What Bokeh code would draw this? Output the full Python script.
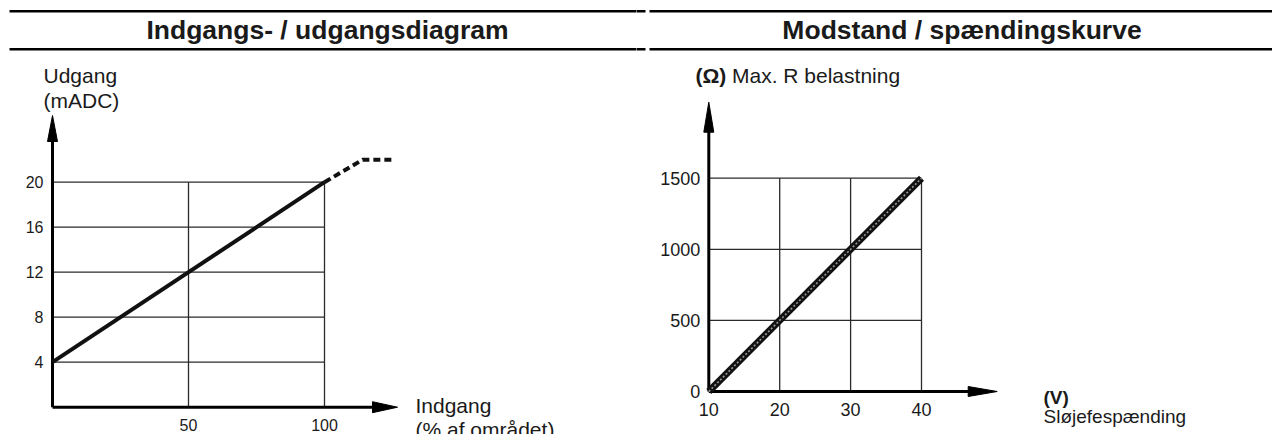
from bokeh.plotting import figure
from bokeh.layouts import row
from bokeh.models import Range1d
from bokeh.core.properties import value
from bokeh.embed import file_html
from bokeh.resources import INLINE

# ---------------- data ----------------
left_title = "Indgangs- / udgangsdiagram"
right_title = "Modstand / spændingskurve"

left_x_ticks = [50, 100]
left_y_ticks = [4, 8, 12, 16, 20]
left_input = [0, 100]          # Indgang (% af området)
left_output = [4, 20]          # Udgang (mADC)
left_sat_input = [100, 114, 126]
left_sat_output = [20, 22, 22]

right_x_ticks = [10, 20, 30, 40]
right_y_ticks = [0, 500, 1000, 1500]
right_volts = [10, 40]         # Sløjefespænding (V)
right_ohms = [0, 1500]         # Max. R belastning (Ω)

# ---------------- layout ----------------
FIG_W, FIG_H = 636, 434
TOP = 0
FONT = value("Liberation Sans")
TXT = "#1a1a1a"


def mapper(fig_left, xv0, xp0, xv1, xp1, yv0, yp0, yv1, yp1):
    sx = (xp1 - xp0) / (xv1 - xv0)
    sy = (yp1 - yp0) / (yv1 - yv0)
    fx = lambda px: xv0 + (px - xp0) / sx
    fy = lambda py: yv0 + (py - yp0) / sy
    xr = Range1d(fx(fig_left), fx(fig_left + FIG_W))
    yr = Range1d(fy(TOP + FIG_H), fy(TOP))
    return fx, fy, abs(sx), abs(sy), xr, yr


def make_fig(xr, yr):
    p = figure(width=FIG_W, height=FIG_H, x_range=xr, y_range=yr,
               x_axis_location=None, y_axis_location=None,
               toolbar_location=None, output_backend="svg",
               min_border=0, outline_line_color=None)
    p.background_fill_color = "white"
    p.border_fill_color = "white"
    p.xgrid.visible = False
    p.ygrid.visible = False
    return p


def headers(p, fx, fy):
    for a, b in [(9, 645), (649, 1274)]:
        for yy in (10.7, 48.7):
            p.segment(x0=[fx(a)], y0=[fy(yy)], x1=[fx(b)], y1=[fy(yy)],
                      line_color="black", line_width=2.5)


def label(p, x, y, t, size, bold=False, align="left"):
    p.text(x=[x], y=[y], text=[t], text_font=FONT, text_font_size=f"{size}px",
           text_font_style="bold" if bold else "normal", text_color=TXT,
           text_align=align, text_baseline="middle")


def arrowhead(p, tip_x, tip_y, dx, dy, half):
    # dx, dy: data-vector from tip to base; half: data-vector of half width
    p.patch(x=[tip_x, tip_x + dx + half[0], tip_x + dx - half[0]],
            y=[tip_y, tip_y + dy + half[1], tip_y + dy - half[1]],
            fill_color="black", line_color="black", line_width=1)


# ================= left chart =================
fxL, fyL, sxL, syL, xrL, yrL = mapper(0, 0, 52, 100, 324, 0, 406.7, 20, 181.7)
pL = make_fig(xrL, yrL)
headers(pL, fxL, fyL)
label(pL, fxL(327), fyL(29.5), left_title, 26.5, bold=True, align="center")

LX_END = fxL(397)
LY_END = fyL(115)
xmaxL, ymaxL = max(left_x_ticks), max(left_y_ticks)

# grid
pL.segment(x0=[0] * len(left_y_ticks), x1=[xmaxL] * len(left_y_ticks),
           y0=left_y_ticks, y1=left_y_ticks, line_color="#2a2a2a", line_width=1.3)
pL.segment(x0=left_x_ticks, x1=left_x_ticks, y0=[0] * len(left_x_ticks),
           y1=[ymaxL] * len(left_x_ticks), line_color="#2a2a2a", line_width=1.3)

# axes
pL.segment(x0=[0], y0=[0], x1=[LX_END - 10 / sxL], y1=[0], line_color="black", line_width=3)
pL.segment(x0=[0], y0=[0], x1=[0], y1=[LY_END - 10 / syL], line_color="black", line_width=3)
arrowhead(pL, LX_END, 0, -25 / sxL, 0, (0, 5.5 / syL))
arrowhead(pL, 0, LY_END, 0, -26 / syL, (5 / sxL, 0))

# data
pL.line(left_input, left_output, line_color="#111111", line_width=4)
pL.line(left_sat_input, left_sat_output, line_color="#111111", line_width=4,
        line_dash="7 4")

# tick labels
pL.text(x=[0] * len(left_y_ticks), y=left_y_ticks, text=[str(t) for t in left_y_ticks],
        text_font=FONT, text_font_size="16px", text_color=TXT, text_align="right",
        text_baseline="middle", x_offset=-9)
pL.text(x=left_x_ticks, y=[0] * len(left_x_ticks), text=[str(t) for t in left_x_ticks],
        text_font=FONT, text_font_size="16px", text_color=TXT, text_align="center",
        text_baseline="middle", y_offset=17.3)

# axis titles
label(pL, fxL(43), fyL(74.5), "Udgang", 21)
label(pL, fxL(43), fyL(100), "(mADC)", 21)
label(pL, fxL(415), fyL(404.5), "Indgang", 21)
label(pL, fxL(415), fyL(428.5), "(% af området)", 21)

# ================= right chart =================
fxR, fyR, sxR, syR, xrR, yrR = mapper(636, 10, 708.3, 40, 921, 0, 391, 1500, 177.7)
pR = make_fig(xrR, yrR)
headers(pR, fxR, fyR)
label(pR, fxR(961.5), fyR(29.5), right_title, 26.5, bold=True, align="center")

RX_END = fxR(996.7)
RY_END = fyR(101.7)
x0R, xmaxR = min(right_x_ticks), max(right_x_ticks)
ymaxR = max(right_y_ticks)

hy = [t for t in right_y_ticks if t > 0]
vx = [t for t in right_x_ticks if t > x0R]
pR.segment(x0=[x0R] * len(hy), x1=[xmaxR] * len(hy), y0=hy, y1=hy,
           line_color="#2a2a2a", line_width=1.3)
pR.segment(x0=vx, x1=vx, y0=[0] * len(vx), y1=[ymaxR] * len(vx),
           line_color="#2a2a2a", line_width=1.3)

pR.segment(x0=[x0R], y0=[0], x1=[RX_END - 10 / sxR], y1=[0], line_color="black", line_width=3)
pR.segment(x0=[x0R], y0=[0], x1=[x0R], y1=[RY_END - 10 / syR], line_color="black", line_width=3)
arrowhead(pR, RX_END, 0, -29 / sxR, 0, (0, 5 / syR))
arrowhead(pR, x0R, RY_END, 0, -30 / syR, (5 / sxR, 0))

pR.line(right_volts, right_ohms, line_color="#111111", line_width=7)
pR.line(right_volts, right_ohms, line_color="#9a9a9a", line_width=1.6, line_dash="2 2")

pR.text(x=[x0R] * len(right_y_ticks), y=right_y_ticks, text=[str(t) for t in right_y_ticks],
        text_font=FONT, text_font_size="18px", text_color=TXT, text_align="right",
        text_baseline="middle", x_offset=-8.5)
pR.text(x=right_x_ticks, y=[0] * len(right_x_ticks), text=[str(t) for t in right_x_ticks],
        text_font=FONT, text_font_size="18px", text_color=TXT, text_align="center",
        text_baseline="middle", y_offset=17.5)

label(pR, fxR(695), fyR(74.5), "(Ω)", 21, bold=True)
label(pR, fxR(731.5), fyR(74.5), "Max. R belastning", 21)
label(pR, fxR(1043), fyR(396.5), "(V)", 19, bold=True)
label(pR, fxR(1043), fyR(416), "Sløjefespænding", 19)

layout = row(pL, pR)
open("out.html", "w").write(file_html(layout, INLINE))
